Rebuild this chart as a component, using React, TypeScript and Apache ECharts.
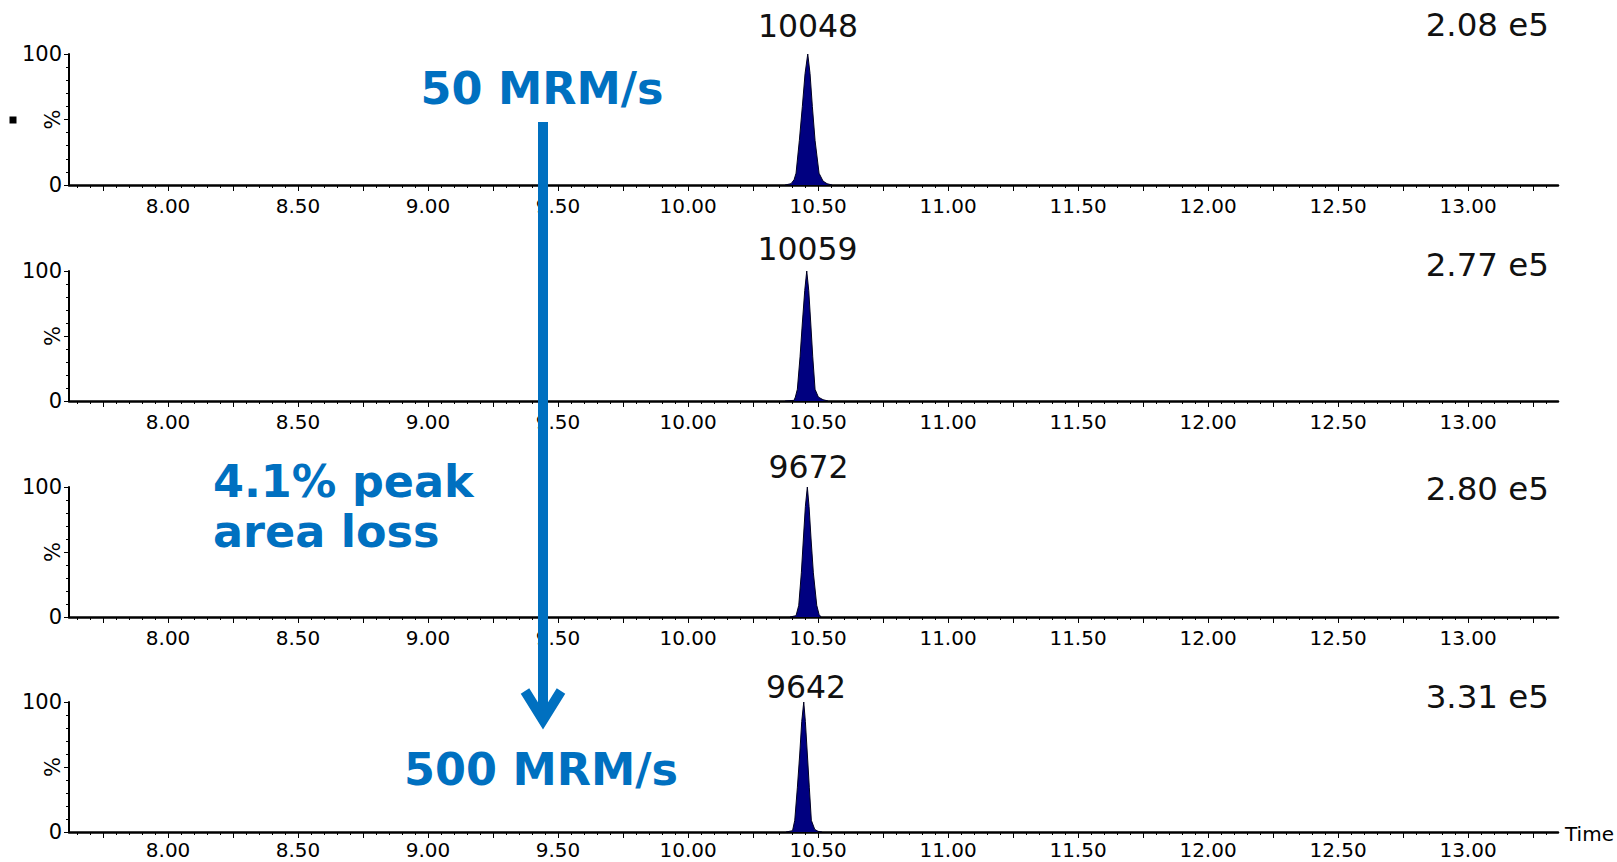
import React, { useEffect, useRef } from "react";
import * as echarts from "echarts";

// ---- Data ----
const panel1Times = [10.3731, 10.3962, 10.4077, 10.4154, 10.4281, 10.4396, 10.45, 10.4604, 10.4692, 10.4781, 10.4885, 10.5038, 10.5192, 10.5346, 10.5538];
const panel1Values = [0, 1, 4, 9, 34, 60, 85, 100, 85, 60, 34, 9, 3, 1, 0];

const panel2Times = [10.3731, 10.4077, 10.4127, 10.4204, 10.4308, 10.4396, 10.4488, 10.4565, 10.4642, 10.4719, 10.4796, 10.4885, 10.5012, 10.5192, 10.5385];
const panel2Values = [0, 0.5, 3, 9, 34, 60, 85, 100, 85, 60, 34, 9, 3, 1, 0];

const panel3Times = [10.3923, 10.4154, 10.4258, 10.4358, 10.4435, 10.4512, 10.4588, 10.4654, 10.4731, 10.4819, 10.495, 10.5038, 10.5115];
const panel3Values = [0, 1, 9, 34, 60, 85, 100, 85, 60, 34, 9, 2, 0];

const panel4Times = [10.3769, 10.4019, 10.4104, 10.4204, 10.4296, 10.4373, 10.445, 10.4512, 10.4588, 10.4665, 10.4742, 10.4873, 10.5, 10.5154];
const panel4Values = [0, 1, 9, 34, 60, 85, 100, 85, 60, 34, 9, 2, 0.5, 0];

const peakLabels = ["10048", "10059", "9672", "9642"];
const intensityLabels = ["2.08 e5", "2.77 e5", "2.80 e5", "3.31 e5"];

const xLabelValues = [8.0, 8.5, 9.0, 9.5, 10.0, 10.5, 11.0, 11.5, 12.0, 12.5, 13.0];
const xMajorTickValues = [7.75, 8.0, 8.25, 8.5, 8.75, 9.0, 9.25, 9.5, 9.75, 10.0, 10.25, 10.5, 10.75, 11.0, 11.25, 11.5, 11.75, 12.0, 12.25, 12.5, 12.75, 13.0, 13.25];
const xMinorStep = 0.05;
const xMin = 7.619;
const xMax = 13.346;
const yLabelValues = [0, 100];
const xAxisTitle = "Time";
const yAxisTitle = "%";

const annotationTop = "50 MRM/s";
const annotationMiddle = ["4.1% peak", "area loss"];
const annotationBottom = "500 MRM/s";

// ---- Layout ----
const W = 1617;
const H = 862;
const gridLeft = 69;
const gridWidth = 1489;
const gridTops = [54, 271, 487, 702];
const gridHeights = [131, 130, 130, 130];
const xLabelMargins = [13, 13, 13, 10];
const peakLabelPos = [
  [808, 26],
  [807.5, 248.5],
  [808.5, 467],
  [806, 687],
];
const intensityPos = [
  [1549, 25],
  [1549, 265],
  [1549, 489],
  [1549, 697],
];
const BLUE = "#0070C0";
const FONT = "DejaVu Sans";

export default function App() {
  const ref = useRef<HTMLDivElement>(null);
  useEffect(() => {
    if (!ref.current) return;
    const chart = echarts.init(ref.current, undefined, { renderer: "svg" });

    const minorTicks: number[] = [];
    for (let k = Math.ceil(xMin / xMinorStep); k * xMinorStep <= xMax; k++) {
      minorTicks.push(Math.round(k * xMinorStep * 100) / 100);
    }

    const panels = [
      [panel1Times, panel1Values],
      [panel2Times, panel2Values],
      [panel3Times, panel3Values],
      [panel4Times, panel4Values],
    ];

    const grids = gridTops.map((t, i) => ({
      left: gridLeft,
      width: gridWidth,
      top: t,
      height: gridHeights[i],
      containLabel: false,
      outerBoundsMode: "none",
    }));

    const xAxes: any[] = [];
    const yAxes: any[] = [];
    panels.forEach((_, i) => {
      xAxes.push({
        type: "value",
        gridIndex: i,
        position: "bottom",
        min: xMin,
        max: xMax,
        axisLine: { show: true, lineStyle: { color: "#000", width: 2.5 } },
        axisTick: {
          show: true,
          customValues: xMajorTickValues,
          length: 6,
          lineStyle: { color: "#000", width: 1 },
        },
        axisLabel: {
          show: true,
          customValues: xLabelValues,
          formatter: (v: number) => v.toFixed(2),
          fontFamily: FONT,
          fontSize: 20,
          lineHeight: 16,
          color: "#000",
          margin: xLabelMargins[i],
        },
        splitLine: { show: false },
      });
      xAxes.push({
        type: "value",
        gridIndex: i,
        position: "bottom",
        offset: 0,
        min: xMin,
        max: xMax,
        axisLine: { show: false },
        axisTick: {
          show: true,
          customValues: minorTicks,
          length: 3,
          lineStyle: { color: "#000", width: 1 },
        },
        axisLabel: { show: false },
        splitLine: { show: false },
      });
      yAxes.push({
        type: "value",
        gridIndex: i,
        min: 0,
        max: 100,
        interval: 50,
        name: yAxisTitle,
        nameLocation: "middle",
        nameRotate: 90,
        nameGap: 6,
        nameMoveOverlap: false,
        nameTextStyle: { fontFamily: FONT, fontSize: 21, color: "#000" },
        axisLine: { show: true, lineStyle: { color: "#000", width: 2 } },
        axisTick: { show: true, length: 5, lineStyle: { color: "#000", width: 1 } },
        minorTick: { show: true, splitNumber: 5, length: 3, lineStyle: { color: "#000", width: 1 } },
        axisLabel: {
          show: true,
          formatter: (v: number) => (yLabelValues.indexOf(v) >= 0 ? String(v) : ""),
          fontFamily: FONT,
          fontSize: 21,
          color: "#000",
          margin: 7,
        },
        splitLine: { show: false },
        minorSplitLine: { show: false },
      });
    });

    const series = panels.map((p, i) => ({
      type: "line",
      xAxisIndex: i * 2,
      yAxisIndex: i,
      data: (p[0] as number[]).map((t, k) => [t, (p[1] as number[])[k]]),
      showSymbol: false,
      symbol: "none",
      smooth: false,
      lineStyle: { color: "#000020", width: 1 },
      areaStyle: { color: "#000080", opacity: 1, origin: "start" },
      z: 3,
    }));

    const graphics: any[] = [];
    peakLabels.forEach((txt, i) => {
      graphics.push({
        type: "text",
        x: peakLabelPos[i][0],
        y: peakLabelPos[i][1],
        style: {
          text: txt,
          fontFamily: FONT,
          fontSize: 31.5,
          fill: "#111",
          textAlign: "center",
          textVerticalAlign: "middle",
        },
      });
    });
    intensityLabels.forEach((txt, i) => {
      graphics.push({
        type: "text",
        x: intensityPos[i][0],
        y: intensityPos[i][1],
        style: {
          text: txt,
          fontFamily: FONT,
          fontSize: 32.5,
          fill: "#111",
          textAlign: "right",
          textVerticalAlign: "middle",
        },
      });
    });
    graphics.push({
      type: "text",
      x: 1565,
      y: 834,
      style: {
        text: xAxisTitle,
        fontFamily: FONT,
        fontSize: 20,
        fill: "#000",
        textAlign: "left",
        textVerticalAlign: "middle",
      },
    });
    const blueText = (text: string, x: number, y: number, align: string) => ({
      type: "text",
      x,
      y,
      z: 10,
      style: {
        text,
        fontFamily: FONT,
        fontWeight: "bold",
        fontSize: 44.5,
        fill: BLUE,
        textAlign: align,
        textVerticalAlign: "middle",
      },
    });
    graphics.push(blueText(annotationTop, 542, 88, "center"));
    graphics.push(blueText(annotationMiddle[0], 213, 481, "left"));
    graphics.push(blueText(annotationMiddle[1], 213, 531, "left"));
    graphics.push(blueText(annotationBottom, 541, 769, "center"));
    graphics.push({
      type: "line",
      z: 10,
      shape: { x1: 543, y1: 122, x2: 543, y2: 716 },
      style: { stroke: BLUE, lineWidth: 10 },
    });
    graphics.push({
      type: "polyline",
      z: 10,
      shape: { points: [[525, 691], [543, 720], [561, 691]] },
      style: { stroke: BLUE, lineWidth: 10, lineJoin: "miter", lineCap: "butt", fill: "none" },
    });
    graphics.push({
      type: "rect",
      shape: { x: 9.5, y: 116.5, width: 7, height: 7 },
      style: { fill: "#000" },
    });

    chart.setOption({
      animation: false,
      backgroundColor: "#fff",
      grid: grids,
      xAxis: xAxes,
      yAxis: yAxes,
      series,
      graphic: graphics,
    });

    return () => chart.dispose();
  }, []);

  return (
    <div
      ref={ref}
      style={{ position: "fixed", left: 0, top: 0, width: W, height: H }}
    />
  );
}
